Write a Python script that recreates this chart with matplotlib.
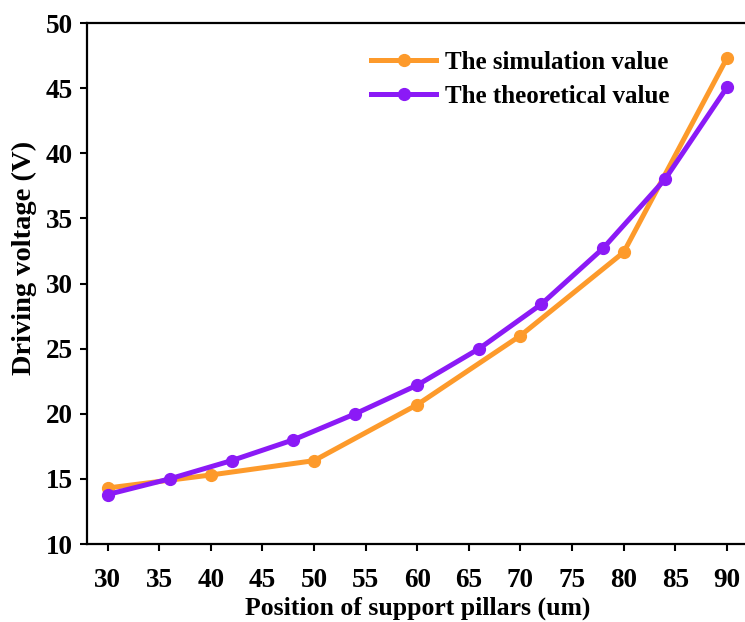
import matplotlib
matplotlib.use('Agg')
import matplotlib.pyplot as plt

# Driving voltage vs. support pillar position
sim_x = [30, 40, 50, 60, 70, 80, 90]
sim_v = [14.3, 15.3, 16.4, 20.7, 26.0, 32.4, 47.3]

theo_x = [30, 36, 42, 48, 54, 60, 66, 72, 78, 84, 90]
theo_v = [13.8, 15.0, 16.4, 18.0, 20.0, 22.2, 25.0, 28.4, 32.7, 38.0, 45.05]

x_ticks = list(range(30, 91, 5))
y_ticks = list(range(10, 51, 5))

plt.rcParams['font.family'] = 'Liberation Serif'
plt.rcParams['font.weight'] = 'bold'

fig = plt.figure(figsize=(7.45, 6.22), dpi=100)
ax = fig.add_axes([0.1168, 0.1254, 0.8866, 0.8376])

ax.plot(sim_x, sim_v, color='#FD9A2B', lw=3.6, marker='o', ms=8.5,
        label='The simulation value', zorder=2)
ax.plot(theo_x, theo_v, color='#8B1AF6', lw=3.6, marker='o', ms=8.5,
        label='The theoretical value', zorder=3)

ax.set_xlim(28, 92)
ax.set_ylim(10, 50)
ax.set_xticks(x_ticks)
ax.set_yticks(y_ticks)
ax.tick_params(direction='out', length=5, width=1.5, labelsize=19.5, pad=5)
ax.tick_params(axis='x', pad=12)
for s in ax.spines.values():
    s.set_linewidth(1.6)

ax.set_xlabel('Position of support pillars (um)', fontsize=18.5, fontweight='bold', labelpad=3)
ax.set_ylabel('Driving voltage (V)', fontsize=20.5, fontweight='bold')
ax.yaxis.set_label_coords(-0.075, 0.549)

ax.legend(loc='upper right', bbox_to_anchor=(0.916, 0.99), frameon=False,
          fontsize=18, handlelength=2.6, handletextpad=0.35, labelspacing=0.45)

fig.savefig('out.png', dpi=100)
